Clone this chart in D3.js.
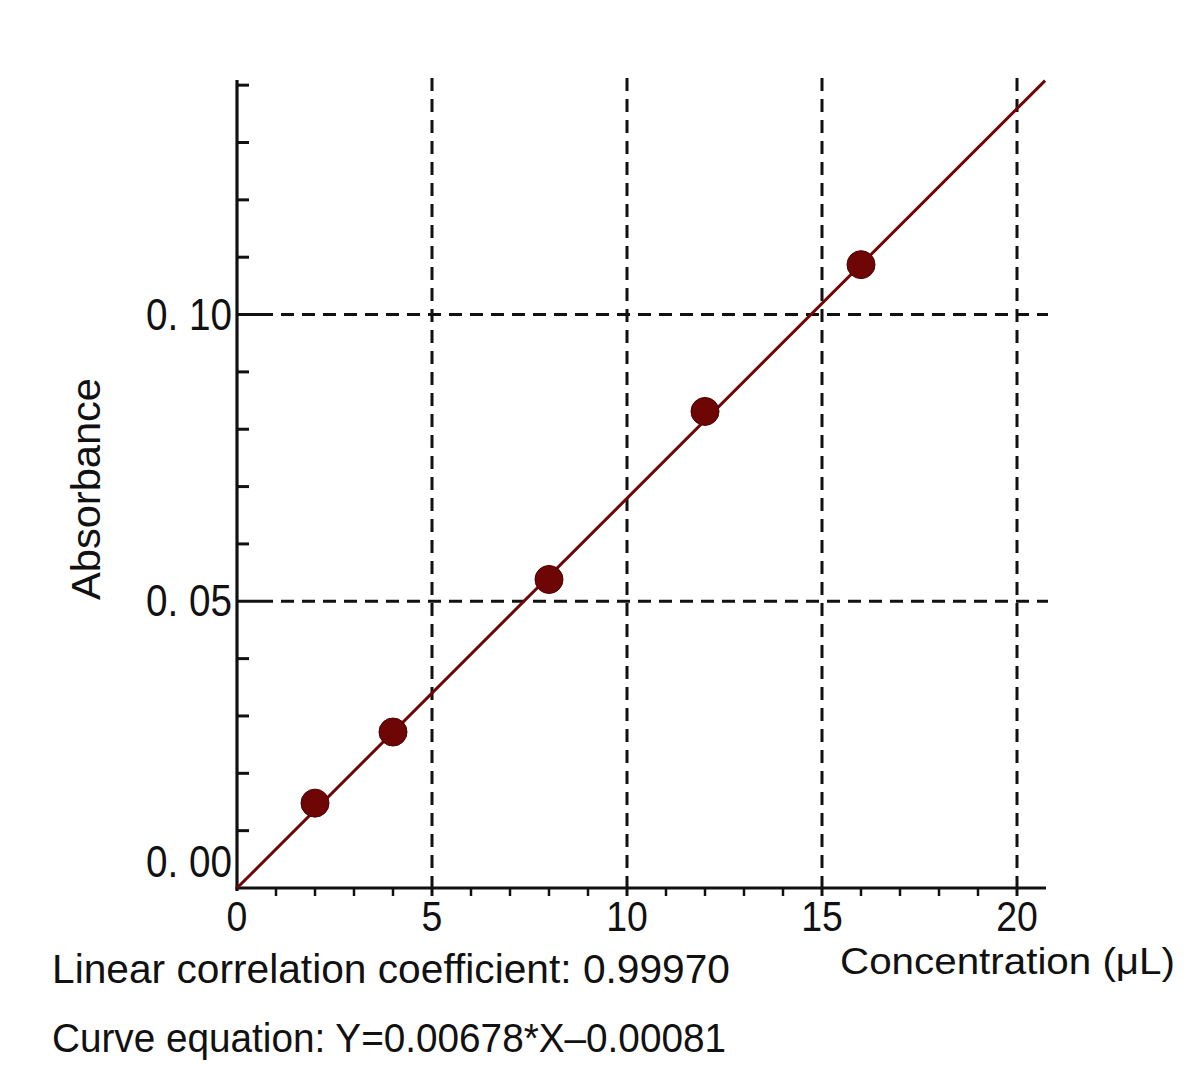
<!DOCTYPE html>
<html><head><meta charset="utf-8">
<script src="https://cdn.jsdelivr.net/npm/d3@7"></script>
<style>html,body{margin:0;padding:0;background:#fff;} svg{display:block;} text{font-family:"Liberation Sans",Arial,sans-serif;fill:#111;}</style>
</head><body><div id="chart"></div>
<script>
const concentration = [2, 4, 8, 12, 16];
const absorbance = [0.0148, 0.0272, 0.0538, 0.0831, 0.1087];
// drawn fit line end points
const fitX = [0, 20.72];
const fitY = [0, 0.1408];
const xTicks = [0, 5, 10, 15, 20];
const xTickLabels = ["0", "5", "10", "15", "20"];
const yTicks = [0, 0.05, 0.10];
const yTickLabels = ["0. 00", "0. 05", "0. 10"];
const xGrid = [5, 10, 15, 20];
const yGrid = [0.05, 0.10];
const xTitle = "Concentration (\u03bcL)";
const yTitle = "Absorbance";
const note1 = "Linear correlation coefficient: 0.99970";
const note2 = "Curve equation: Y=0.00678*X\u20130.00081";

const W = 1200, H = 1065;
const svg = d3.select("#chart").append("svg").attr("width", W).attr("height", H);
const x = d3.scaleLinear().domain([0, 20.7]).range([237, 1044.3]);
const y = d3.scaleLinear().domain([0, 0.1409]).range([888, 80]);
const ink = "#111";
const red = "#6e0606";

// grid lines
svg.append("g").selectAll("line").data(xGrid).join("line")
  .attr("x1", d => x(d)).attr("x2", d => x(d)).attr("y1", 78).attr("y2", y(0))
  .attr("stroke", ink).attr("stroke-width", 3).attr("stroke-dasharray", "13,8");
svg.append("g").selectAll("line").data(yGrid).join("line")
  .attr("x1", x(0) + 36).attr("x2", 1048).attr("y1", d => y(d)).attr("y2", d => y(d))
  .attr("stroke", ink).attr("stroke-width", 3).attr("stroke-dasharray", "13,8")
  .attr("stroke-dashoffset", -8);
svg.append("g").selectAll("line").data(yGrid).join("line")
  .attr("x1", x(0)).attr("x2", x(0) + 36).attr("y1", d => y(d)).attr("y2", d => y(d))
  .attr("stroke", ink).attr("stroke-width", 3);

// axes lines
svg.append("line").attr("x1", x(0)).attr("x2", x(0)).attr("y1", 80).attr("y2", 891)
  .attr("stroke", ink).attr("stroke-width", 3.2);
svg.append("line").attr("x1", x(0) - 1.5).attr("x2", 1046).attr("y1", y(0)).attr("y2", y(0))
  .attr("stroke", ink).attr("stroke-width", 3.2);

// y minor ticks (every 0.01, inward)
const yMinor = d3.range(0.01, 0.1405, 0.01).filter(v => Math.abs(v - 0.05) > 1e-6 && Math.abs(v - 0.1) > 1e-6);
svg.append("g").selectAll("line").data(yMinor).join("line")
  .attr("x1", x(0)).attr("x2", x(0) + 12).attr("y1", d => y(d)).attr("y2", d => y(d))
  .attr("stroke", ink).attr("stroke-width", 3);
// x ticks (every 1, downward)
const xMinor = d3.range(1, 20.5, 1);
svg.append("g").selectAll("line").data(xMinor).join("line")
  .attr("x1", d => x(d)).attr("x2", d => x(d)).attr("y1", y(0)).attr("y2", y(0) + 8)
  .attr("stroke", ink).attr("stroke-width", d => d % 5 === 0 ? 3 : 2.5);

// tick labels
svg.append("g").selectAll("text").data(xTicks).join("text")
  .attr("x", 0).attr("y", 0).attr("text-anchor", "middle")
  .attr("font-size", 43)
  .attr("transform", d => `translate(${x(d)},931) scale(0.87,1)`)
  .text((d, i) => xTickLabels[i]);
svg.append("g").selectAll("text").data(yTicks).join("text")
  .attr("x", 0).attr("y", 0)
  .attr("text-anchor", "end").attr("font-size", 45)
  .attr("transform", d => { const yy = d === 0 ? 877 : y(d) + 15; return `translate(232,${yy}) scale(0.86,1)`; })
  .text((d, i) => yTickLabels[i]);

// fit line
svg.append("line").attr("x1", x(fitX[0])).attr("y1", y(fitY[0]))
  .attr("x2", x(fitX[1])).attr("y2", y(fitY[1]))
  .attr("stroke", red).attr("stroke-width", 3);

// points
svg.append("g").selectAll("circle").data(concentration).join("circle")
  .attr("cx", d => x(d)).attr("cy", (d, i) => y(absorbance[i])).attr("r", 14)
  .attr("fill", red).attr("stroke", "#4a0000").attr("stroke-width", 1);

// titles
svg.append("text").attr("x", 840).attr("y", 974).attr("font-size", 37)
  .attr("textLength", 335).attr("lengthAdjust", "spacingAndGlyphs").text(xTitle);
svg.append("text").attr("transform", "translate(100,600) rotate(-90)").attr("font-size", 41)
  .attr("textLength", 222).attr("lengthAdjust", "spacingAndGlyphs").text(yTitle);
svg.append("text").attr("x", 52).attr("y", 983).attr("font-size", 41)
  .attr("textLength", 678).attr("lengthAdjust", "spacingAndGlyphs").text(note1);
svg.append("text").attr("x", 52).attr("y", 1052).attr("font-size", 41)
  .attr("textLength", 674).attr("lengthAdjust", "spacingAndGlyphs").text(note2);
</script></body></html>
